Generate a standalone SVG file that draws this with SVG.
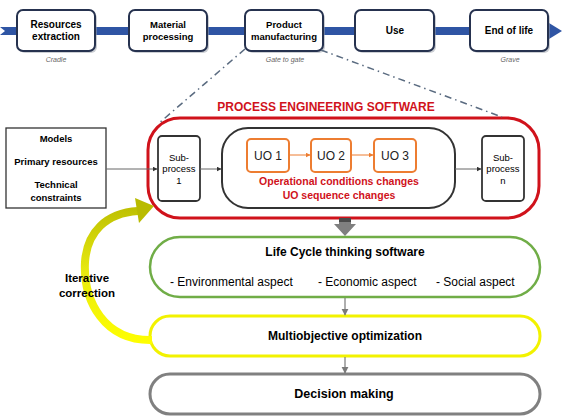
<svg xmlns="http://www.w3.org/2000/svg" width="562" height="417" viewBox="0 0 562 417">
<defs>
<style>
.t{font-family:"Liberation Sans",Arial,sans-serif;}
.b{font-weight:bold;}
.top{fill:#fff;stroke:#26324f;stroke-width:2;}
.sh{fill:#9aa0aa;opacity:0.5;}
.lbl{font-family:"Liberation Sans",Arial,sans-serif;font-style:italic;font-size:7px;fill:#666;}
.sub{fill:#fff;stroke:#333;stroke-width:1.8;}
.uo{fill:#fff;stroke:#ed7d31;stroke-width:2;}
.thin{stroke:#7a7a7a;stroke-width:1.2;fill:none;}
.dash{stroke:#5a6b80;stroke-width:1.5;fill:none;stroke-dasharray:7 4 1.5 4;}
</style>
<marker id="ah" viewBox="0 0 10 10" refX="9" refY="5" markerWidth="5" markerHeight="5" orient="auto"><path d="M0,0 L10,5 L0,10 z" fill="#333"/></marker>
<marker id="ahg" viewBox="0 0 10 10" refX="9" refY="5" markerWidth="6" markerHeight="6" orient="auto"><path d="M0,0 L10,5 L0,10 z" fill="#7a7a7a"/></marker>
<marker id="aho" viewBox="0 0 10 10" refX="9" refY="5" markerWidth="5" markerHeight="5" orient="auto"><path d="M0,0 L10,5 L0,10 z" fill="#ed7d31"/></marker>
<linearGradient id="yg" gradientUnits="userSpaceOnUse" x1="0" y1="200" x2="0" y2="345">
<stop offset="0" stop-color="#b9bb00"/>
<stop offset="0.5" stop-color="#e8ea10"/>
<stop offset="1" stop-color="#ffff00"/>
</linearGradient>
</defs>
<rect width="562" height="417" fill="#fff"/>

<g id="band">
<path d="M0,27 L549,27 L549,23 L562,31 L549,39 L549,35 L0,35 L5,31 z" fill="#2f55a4"/>
</g>

<g id="n-resources">
<rect class="sh" x="19" y="12" width="78" height="41" rx="6"/>
<rect class="top" x="17" y="10" width="78" height="41" rx="6"/>
<text class="t b" x="56" y="28" font-size="10" text-anchor="middle">Resources</text>
<text class="t b" x="56" y="40" font-size="10" text-anchor="middle">extraction</text>
<text class="lbl" x="56" y="62" text-anchor="middle">Cradle</text>
</g>
<g id="n-material">
<rect class="sh" x="131" y="12" width="78" height="41" rx="6"/>
<rect class="top" x="129" y="10" width="78" height="41" rx="6"/>
<text class="t b" x="168" y="28" font-size="9.5" text-anchor="middle">Material</text>
<text class="t b" x="168" y="40" font-size="9.5" text-anchor="middle">processing</text>
</g>
<g id="n-product">
<rect class="sh" x="247" y="12" width="78" height="41" rx="6"/>
<rect class="top" x="245" y="10" width="78" height="41" rx="6"/>
<text class="t b" x="284" y="28" font-size="9.5" text-anchor="middle">Product</text>
<text class="t b" x="284" y="40" font-size="9.5" text-anchor="middle">manufacturing</text>
<text class="lbl" x="285" y="62" text-anchor="middle">Gate to gate</text>
</g>
<g id="n-use">
<rect class="sh" x="357" y="12" width="79" height="41" rx="6"/>
<rect class="top" x="355" y="10" width="79" height="41" rx="6"/>
<text class="t b" x="395" y="34" font-size="10" text-anchor="middle">Use</text>
</g>
<g id="n-end">
<rect class="sh" x="472" y="12" width="78" height="41" rx="6"/>
<rect class="top" x="470" y="10" width="78" height="41" rx="6"/>
<text class="t b" x="509" y="34" font-size="10" text-anchor="middle">End of life</text>
<text class="lbl" x="510" y="62" text-anchor="middle">Grave</text>
</g>

<g id="n-inputs">
<rect x="6" y="128" width="100" height="80" fill="#fff" stroke="#333" stroke-width="1.3"/>
<text class="t b" x="56" y="142" font-size="9.5" text-anchor="middle">Models</text>
<text class="t b" x="56" y="165" font-size="9.5" text-anchor="middle">Primary resources</text>
<text class="t b" x="56" y="188" font-size="9.5" text-anchor="middle">Technical</text>
<text class="t b" x="56" y="201" font-size="9.5" text-anchor="middle">constraints</text>
</g>

<g id="n-process-software">
<rect x="148" y="118" width="391" height="100" rx="32" fill="none" stroke="#d0121b" stroke-width="3"/>
<text class="t b" x="326" y="111" font-size="12" fill="#d0121b" text-anchor="middle">PROCESS ENGINEERING SOFTWARE</text>
</g>

<g id="n-sub1">
<rect class="sub" x="158" y="136" width="42" height="65" rx="4"/>
<text class="t" x="179" y="161" font-size="9.5" text-anchor="middle">Sub-</text>
<text class="t" x="179" y="172" font-size="9.5" text-anchor="middle">process</text>
<text class="t" x="179" y="184" font-size="9.5" text-anchor="middle">1</text>
</g>

<g id="n-uo-group">
<rect x="222" y="128" width="233" height="80" rx="26" fill="#fff" stroke="#333" stroke-width="2"/>
<text class="t b" x="339" y="185" font-size="10.5" fill="#d0121b" text-anchor="middle">Operational conditions changes</text>
<text class="t b" x="339" y="199" font-size="10.5" fill="#d0121b" text-anchor="middle">UO sequence changes</text>
</g>
<g id="n-uo1">
<rect class="uo" x="247" y="139" width="42" height="33" rx="4"/>
<text class="t" x="268" y="160" font-size="12" fill="#222" text-anchor="middle">UO 1</text>
</g>
<g id="n-uo2">
<rect class="uo" x="311" y="139" width="40" height="33" rx="4"/>
<text class="t" x="331" y="160" font-size="12" fill="#222" text-anchor="middle">UO 2</text>
</g>
<g id="n-uo3">
<rect class="uo" x="374" y="139" width="42" height="33" rx="4"/>
<text class="t" x="395" y="160" font-size="12" fill="#222" text-anchor="middle">UO 3</text>
</g>

<g id="n-subn">
<rect class="sub" x="482" y="136" width="42" height="65" rx="4"/>
<text class="t" x="503" y="161" font-size="9.5" text-anchor="middle">Sub-</text>
<text class="t" x="503" y="172" font-size="9.5" text-anchor="middle">process</text>
<text class="t" x="503" y="184" font-size="9.5" text-anchor="middle">n</text>
</g>

<g id="n-lca">
<rect x="150" y="237" width="390" height="60" rx="30" fill="#fff" stroke="#70ad47" stroke-width="2.5"/>
<text class="t b" x="345" y="256" font-size="12" text-anchor="middle">Life Cycle thinking software</text>
<text class="t" x="170" y="286" font-size="12">- Environmental aspect</text>
<text class="t" x="318" y="286" font-size="12">- Economic aspect</text>
<text class="t" x="436" y="286" font-size="12">- Social aspect</text>
</g>

<g id="n-moo">
<rect x="150" y="316" width="390" height="40" rx="20" fill="#fff" stroke="#f2f200" stroke-width="3"/>
<text class="t b" x="345" y="340" font-size="12" text-anchor="middle">Multiobjective optimization</text>
</g>

<g id="n-decision">
<rect x="150" y="374" width="390" height="40" rx="20" fill="#fff" stroke="#808080" stroke-width="3"/>
<text class="t b" x="344" y="398" font-size="12.5" text-anchor="middle">Decision making</text>
</g>

<g id="connectors">
<line class="dash" x1="245" y1="49" x2="158" y2="124"/>
<line class="dash" x1="321" y1="50" x2="502" y2="117"/>
<line x1="106" y1="169" x2="157" y2="169" stroke="#666" stroke-width="1" marker-end="url(#ah)"/>
<line x1="200" y1="169" x2="221" y2="169" stroke="#666" stroke-width="1" marker-end="url(#ah)"/>
<line x1="455" y1="169" x2="481" y2="169" stroke="#666" stroke-width="1" marker-end="url(#ah)"/>
<line x1="290" y1="155" x2="310" y2="155" stroke="#ed7d31" stroke-width="1" marker-end="url(#aho)"/>
<line x1="352" y1="155" x2="373" y2="155" stroke="#ed7d31" stroke-width="1" marker-end="url(#aho)"/>
<line class="thin" x1="345" y1="298" x2="345" y2="315" marker-end="url(#ahg)"/>
<line class="thin" x1="345" y1="357" x2="345" y2="373" marker-end="url(#ahg)"/>
<path d="M339,218 L351,218 L351,224 L356,224 L345,236 L334,224 L339,224 z" fill="#7f7f7f"/>
<rect x="339" y="218" width="12" height="4" fill="#4a4a4a"/>
</g>

<g id="n-iterative">
<path d="M152,340 C105,341 83,302 85,262 C87,232 106,213 138,211" fill="none" stroke="url(#yg)" stroke-width="8"/>
<path d="M154,206 L135,198 L139,223 z" fill="#b9bb00"/>
<text class="t b" x="87" y="282" font-size="11.5" text-anchor="middle">Iterative</text>
<text class="t b" x="87" y="297" font-size="11.5" text-anchor="middle">correction</text>
</g>
</svg>
